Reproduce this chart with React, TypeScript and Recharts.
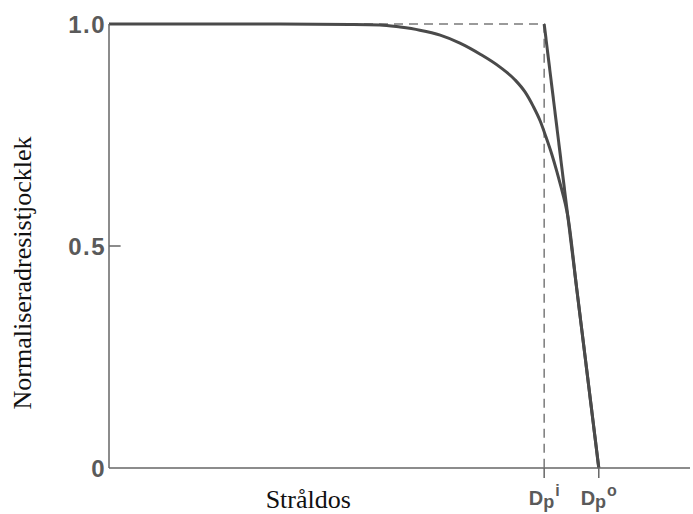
import React from 'react'
import { LineChart, Line, XAxis, YAxis, ReferenceLine } from 'recharts'

const INK = '#4a4a4a'
const AXIS = '#666'
const DASH = '#7a7a7a'

// x in arbitrary dose units (0-100), y normalised thickness
const DP_I = 74.9
const DP_O = 84.3

const doseX = [0, 24.3, 41.5, 46.6, 50.1, 53.5, 57.0, 60.4, 63.9, 67.3, 69.9, 71.6, 73.0, 74.2, 75.2, 76.25, 77.1, 77.8, 78.5, 79.0, 80.5, 82.0, 84.3]
const thicknessY = [1, 1, 0.999, 0.998, 0.993, 0.986, 0.975, 0.957, 0.932, 0.903, 0.874, 0.847, 0.815, 0.782, 0.746, 0.705, 0.667, 0.633, 0.597, 0.565, 0.404, 0.245, 0]

const idealX = [DP_I, DP_O]
const idealY = [1, 0]

const dashX = [0, DP_I, DP_I]
const dashY = [1, 1, 0]

const yTicks = [0, 0.5, 1]
const yTickLabels = ['0', '0.5', '1.0']
const xTicks = [DP_I, DP_O]
const xTickSup = ['i', 'o']

const curve = doseX.map((x, i) => ({ x, y: thicknessY[i] }))
const ideal = idealX.map((x, i) => ({ x, y: idealY[i] }))
const dashed = dashX.map((x, i) => ({ x, y: dashY[i] }))

const YTick = ({ x, y, payload }: any) => {
  const i = yTicks.indexOf(payload.value)
  return (
    <text x={x} y={y} dy="0.36em" textAnchor="end" fontFamily="Liberation Sans, Arial, sans-serif"
      fontSize={24} fontWeight="bold" fill="#5a5a5a" letterSpacing={1.5}>
      {yTickLabels[i]}
    </text>
  )
}

const XTick = ({ x, y, payload }: any) => {
  const i = xTicks.indexOf(payload.value)
  return (
    <text x={x} y={y + 25} textAnchor="middle" fontFamily="Liberation Sans, Arial, sans-serif"
      fontWeight="bold" fill="#5a5a5a">
      <tspan fontSize={20}>D</tspan>
      <tspan fontSize={18} dy={3}>p</tspan>
      <tspan fontSize={16} dy={-12} dx={1}>{xTickSup[i]}</tspan>
    </text>
  )
}

const XLabel = ({ viewBox }: any) => (
  <text x={viewBox.x + viewBox.width * 0.343} y={viewBox.y + 40} textAnchor="middle"
    fontFamily="Liberation Serif, Times New Roman, serif" fontSize={26} fill="#111">
    Stråldos
  </text>
)

const YLabel = ({ viewBox }: any) => {
  const x = viewBox.x + 31
  const y = viewBox.y + 249
  return (
    <text x={x} y={y} transform={`rotate(-90, ${x}, ${y})`} textAnchor="middle"
      fontFamily="Liberation Serif, Times New Roman, serif" fontSize={26} fill="#111">
      Normaliseradresistjocklek
    </text>
  )
}

export default function App() {
  return (
    <div style={{ position: 'absolute', left: 0, top: 0, background: '#fff' }}>
      <LineChart width={693} height={514} margin={{ top: 24, right: 3, left: 0, bottom: 0 }}>
        <XAxis type="number" dataKey="x" domain={[0, 100]} ticks={xTicks} tick={<XTick />}
          tickSize={10} tickLine={{ stroke: AXIS, strokeWidth: 1.5 }}
          axisLine={{ stroke: AXIS, strokeWidth: 1.5 }} height={46} allowDataOverflow
          label={{ content: <XLabel /> }} />
        <YAxis type="number" dataKey="y" domain={[0, 1]} ticks={yTicks} tick={<YTick />}
          tickSize={0} tickMargin={3} tickLine={false}
          axisLine={{ stroke: AXIS, strokeWidth: 1.5 }} width={109}
          label={{ content: <YLabel /> }} />
        <ReferenceLine segment={[{ x: 0, y: 0.5 }, { x: 2, y: 0.5 }]} stroke={AXIS} strokeWidth={1.5} />
        <Line data={dashed} dataKey="y" type="linear" stroke={DASH} strokeWidth={1.5}
          strokeDasharray="9 6" dot={false} isAnimationActive={false} />
        <Line data={ideal} dataKey="y" type="linear" stroke={INK} strokeWidth={3}
          dot={false} isAnimationActive={false} />
        <Line data={curve} dataKey="y" type="monotone" stroke={INK} strokeWidth={3}
          dot={false} isAnimationActive={false} />
      </LineChart>
    </div>
  )
}
